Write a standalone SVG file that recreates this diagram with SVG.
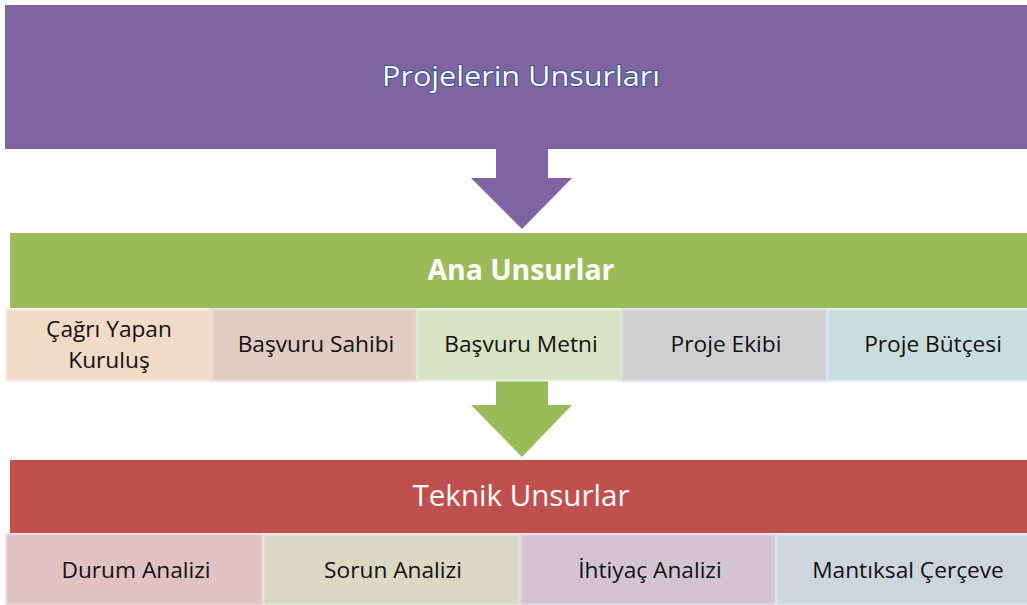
<svg xmlns="http://www.w3.org/2000/svg" width="1027" height="605" viewBox="0 0 1027 605">
<style>
.lbl{font-family:"Open Sans",Lato,"Liberation Sans",sans-serif;font-size:22.7px;fill:#111;text-anchor:middle}
.hdr{font-family:"Open Sans",Lato,"Liberation Sans",sans-serif;text-anchor:middle;fill:#fff}
.cell{stroke-width:3;stroke-opacity:0.55}
</style>
<rect width="1027" height="605" fill="#fff"/>
<g id="top">
<rect x="5" y="5" width="1030" height="144" fill="#8064A2"/>
<text class="hdr" x="521" y="86" font-size="27" fill="#eef3fb" stroke="#1f4e8c" stroke-width="1.6" paint-order="stroke" textLength="278" lengthAdjust="spacingAndGlyphs">Projelerin Unsurları</text>
</g>
<g id="connectors">
<polygon points="496,149 548,149 548,178 572,178 522,229 471,178 496,178" fill="#8064A2"/>
<polygon points="496,381 548,381 548,405 572,405 522,457 471,405 496,405" fill="#9BBB59"/>
</g>
<g id="ana">
<rect x="10" y="233" width="1030" height="75" fill="#9BBB59"/>
<text class="hdr" x="521" y="280" font-size="28" font-weight="bold" textLength="187" lengthAdjust="spacingAndGlyphs">Ana Unsurlar</text>
</g>
<g id="ana-1"><rect class="cell" x="6.5" y="309.5" width="205" height="71" fill="#F2DBC6" stroke="#FCE3D8"/><text class="lbl" x="109" y="337">Çağrı Yapan</text><text class="lbl" x="109" y="368">Kuruluş</text></g>
<g id="ana-2"><rect class="cell" x="212.5" y="309.5" width="204" height="71" fill="#E1CCC4" stroke="#EBD3D3"/><text class="lbl" x="316" y="352">Başvuru Sahibi</text></g>
<g id="ana-3"><rect class="cell" x="417.5" y="309.5" width="204" height="71" fill="#D8E3C4" stroke="#E5EDD9"/><text class="lbl" x="521" y="352">Başvuru Metni</text></g>
<g id="ana-4"><rect class="cell" x="622.5" y="309.5" width="204" height="71" fill="#D0D0D3" stroke="#DCD6E4"/><text class="lbl" x="726" y="352">Proje Ekibi</text></g>
<g id="ana-5"><rect class="cell" x="827.5" y="309.5" width="204" height="71" fill="#C9DEDC" stroke="#D6E6EE"/><text class="lbl" x="933" y="352">Proje Bütçesi</text></g>
<g id="teknik">
<rect x="10" y="460" width="1030" height="73" fill="#C0504D"/>
<text class="hdr" x="521" y="506" font-size="30" textLength="217" lengthAdjust="spacingAndGlyphs">Teknik Unsurlar</text>
</g>
<g id="tek-1"><rect class="cell" x="6.5" y="534.5" width="256" height="70" fill="#E2C1C2" stroke="#EBCFD3"/><text class="lbl" x="136" y="578">Durum Analizi</text></g>
<g id="tek-2"><rect class="cell" x="263.5" y="534.5" width="256" height="70" fill="#D9D8C3" stroke="#E3EAD6"/><text class="lbl" x="393" y="578">Sorun Analizi</text></g>
<g id="tek-3"><rect class="cell" x="520.5" y="534.5" width="255" height="70" fill="#D4C4D2" stroke="#DFD5E3"/><text class="lbl" x="650" y="578">İhtiyaç Analizi</text></g>
<g id="tek-4"><rect class="cell" x="776.5" y="534.5" width="256" height="70" fill="#CFD5DC" stroke="#D6E5EC"/><text class="lbl" x="908" y="578">Mantıksal Çerçeve</text></g>
</svg>
